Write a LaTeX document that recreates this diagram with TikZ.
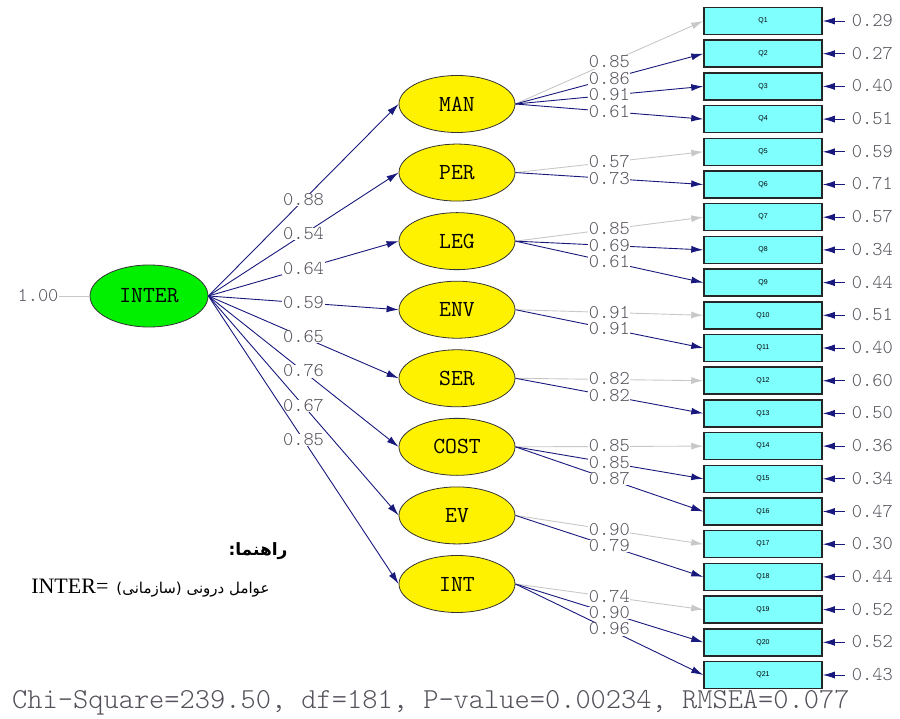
\documentclass[tikz,border=0pt]{standalone}
\usepackage{fontspec}
\setmainfont{Liberation Serif}
\newfontfamily\lisrel{lmmonolt10-regular.otf}
\newfontfamily\arabicfont[Script=Arabic]{DejaVu Sans}
\newfontfamily\qfont{Liberation Sans}
\TeXXeTstate=1
\usepackage{tikz}
\usetikzlibrary{shapes.geometric}
\usetikzlibrary{arrows.meta}
\tikzset{>={Latex[length=12pt, width=7pt]}}
\definecolor{pathblue}{RGB}{25,25,125}
\definecolor{fixgray}{RGB}{200,200,200}
\definecolor{numgray}{RGB}{85,80,90}
\definecolor{obscyan}{RGB}{128,255,255}
\tikzset{
    latent/.style={ellipse, draw=black!80, line width=.8pt, fill=yellow,
        minimum width=116, minimum height=57, inner sep=0pt,
        font=\ttfamily\fontsize{23}{23}\selectfont},
    obs/.style={rectangle, draw=black!85, line width=1.5pt, fill=obscyan,
        minimum width=118, minimum height=27, inner sep=0pt,
        font=\qfont\fontsize{7}{7}\selectfont},
    freepath/.style={pathblue, line width=.9pt},
    fixpath/.style={fixgray, line width=.9pt},
    lbl/.style={fill=white, inner sep=.6pt, text=numgray, text height=11pt, text depth=0pt,
        font=\lisrel\fontsize{19.5}{19.5}\selectfont},
}

\begin{document}
\begin{tikzpicture}[x=1pt, y=-1pt]
    \useasboundingbox (0, 0) rectangle (900, 719);
    % second order factor
    \node[latent, fill={rgb,255:red,0;green,240;blue,0}, minimum width=118, minimum height=62](INTER) at (149, 296){INTER};
    \node[lbl, fill=none](var) at (38, 296){1.00};
    \draw[fixpath](var.east)--(INTER.west);
    % first order factors
    \foreach \n/\v [count=\i from 0] in {MAN/0.88, PER/0.54, LEG/0.64, ENV/0.59, SER/0.65, COST/0.76, EV/0.67, INT/0.85}{
        \node[latent](\n) at (457, {104+68.57*\i}){\n};
        \draw[freepath, ->](INTER.east)--node[lbl]{\v}(\n.west);
    }
    % items and error variances
    \foreach \v [count=\i] in {0.29, 0.27, 0.40, 0.51, 0.59, 0.71, 0.57, 0.34, 0.44, 0.51, 0.40, 0.60, 0.50, 0.36, 0.34, 0.47, 0.30, 0.44, 0.52, 0.52, 0.43}{
        \node[obs](q\i) at (763, {21+32.7*(\i-1)}){Q\i};
        \coordinate(e\i) at ([xshift=22]q\i.east);
        \draw[freepath, ->](e\i)--(q\i.east);
        \node[lbl, fill=none, anchor=west, inner sep=0pt](ev\i) at ([xshift=7]e\i){\v};
    }
    % loadings
    \foreach \f/\q/\v/\s in {MAN/1/0.85/fixpath, MAN/2/0.86/freepath, MAN/3/0.91/freepath, MAN/4/0.61/freepath,
        PER/5/0.57/fixpath, PER/6/0.73/freepath,
        LEG/7/0.85/fixpath, LEG/8/0.69/freepath, LEG/9/0.61/freepath,
        ENV/10/0.91/fixpath, ENV/11/0.91/freepath,
        SER/12/0.82/fixpath, SER/13/0.82/freepath,
        COST/14/0.85/fixpath, COST/15/0.85/freepath, COST/16/0.87/freepath,
        EV/17/0.90/fixpath, EV/18/0.79/freepath,
        INT/19/0.74/fixpath, INT/20/0.90/freepath, INT/21/0.96/freepath}
        \draw[\s, ->](\f.east)--node[lbl]{\v}(q\q.west);
    % key
    \node[anchor=east, font=\arabicfont\bfseries\fontsize{17}{17}\selectfont](keyhead) at (291, 551){\beginR راهنما:\endR};
    \node[anchor=east, font=\fontsize{22}{22}\selectfont](keytext) at (273, 588){INTER=\hspace{8pt}{\arabicfont\fontsize{15}{15}\selectfont\beginR عوامل درونی (سازمانی)\endR}};
    \node[anchor=west, text=numgray, inner sep=0pt, font=\lisrel\fontsize{29}{29}\selectfont](fit) at (12, 703){Chi-Square=239.50, df=181, P-value=0.00234, RMSEA=0.077};
\end{tikzpicture}
\end{document}
